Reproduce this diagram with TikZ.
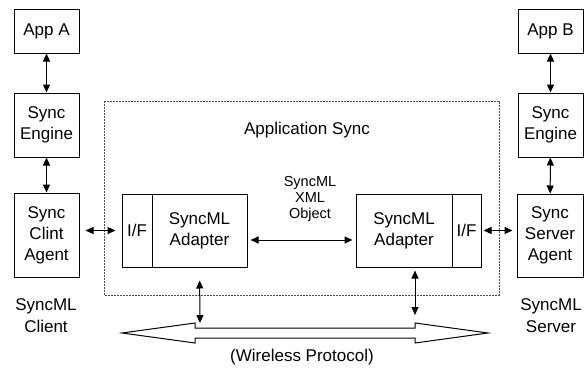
\documentclass[tikz,border=0pt]{standalone}
\usepackage{fontspec}
\setmainfont{Liberation Sans}
\usetikzlibrary{arrows.meta}
\tikzset{
  blk/.style={draw=black, line width=1pt, inner sep=0pt, align=center, font=\fontsize{17}{21}\selectfont},
  link/.style={draw=black, line width=1pt, {Triangle[length=8pt,width=7pt]}-{Triangle[length=8pt,width=7pt]}},
  frame/.style={draw=black!70, line width=0.6pt, dash pattern=on 2pt off 1pt},
  lab/.style={align=center, font=\fontsize{17}{22}\selectfont},
  small/.style={align=center, font=\fontsize{14.5}{16}\selectfont},
}

\begin{document}
\begin{tikzpicture}[x=1pt,y=-1pt]
  \useasboundingbox (0,0) rectangle (587,372);
  \draw[frame] (104,101) rectangle (499,295);

  \node[blk, minimum width=65pt, minimum height=44pt] (AppA) at (46.5,31) {App A};
  \node[blk, minimum width=65pt, minimum height=64pt] (EngA) at (46.5,125) {Sync\\Engine};
  \node[blk, minimum width=65pt, minimum height=84pt] (AgtA) at (46.5,235) {Sync\\Clint\\Agent};
  \node[blk, minimum width=65pt, minimum height=44pt] (AppB) at (550.5,31) {App B};
  \node[blk, minimum width=65pt, minimum height=64pt] (EngB) at (550.5,125) {Sync\\Engine};
  \node[blk, minimum width=66pt, minimum height=83pt] (AgtB) at (550,235.5) {Sync\\Server\\Agent};

  \node[blk, minimum width=30pt, minimum height=73pt] (IfA) at (137,230.5) {I/F};
  \node[blk, minimum width=95pt, minimum height=73pt] (AdA) at (199.5,230.5) {SyncML\\Adapter};
  \node[blk, minimum width=96pt, minimum height=73pt] (AdB) at (404,230.5) {SyncML\\Adapter};
  \node[blk, minimum width=29pt, minimum height=73pt] (IfB) at (466.5,230.5) {I/F};

  \draw[line width=1pt] (122,333) -- (195,323) -- (195,328) -- (415,328) -- (415,323)
    -- (488,333) -- (415,343) -- (415,338) -- (195,338) -- (195,343) -- cycle;
  \coordinate (WL) at (200,323);
  \coordinate (WR) at (415,315);

  \draw[link] (AppA) -- (EngA);
  \draw[link] (EngA) -- (AgtA);
  \draw[link] (AppB) -- (EngB);
  \draw[link] (EngB) -- (AgtB);
  \draw[link, shorten <=6pt, shorten >=6pt] (AgtA.east |- IfA) -- (IfA.west);
  \draw[link, shorten <=2pt, shorten >=4pt] (IfB.east) -- (AgtB.west |- IfB);
  \draw[link, shorten <=3pt, shorten >=3pt] ([yshift=-9.5pt]AdA.east) -- ([yshift=-9.5pt]AdB.west);
  \draw[link, shorten <=13pt] (AdA.south |- AdA.south) -- (WL);
  \draw[link, shorten <=3pt] (AdB.south -| WR) -- (WR);

  \node[lab] (AppSync) at (307,130) {Application Sync};
  \node[small] (XmlObj) at (310,199) {SyncML\\XML\\Object};
  \node[lab] (Client) at (46,316) {SyncML\\Client};
  \node[lab] (Server) at (551,316) {SyncML\\Server};
  \node[lab] (Proto) at (302,357) {(Wireless Protocol)};
\end{tikzpicture}
\end{document}
